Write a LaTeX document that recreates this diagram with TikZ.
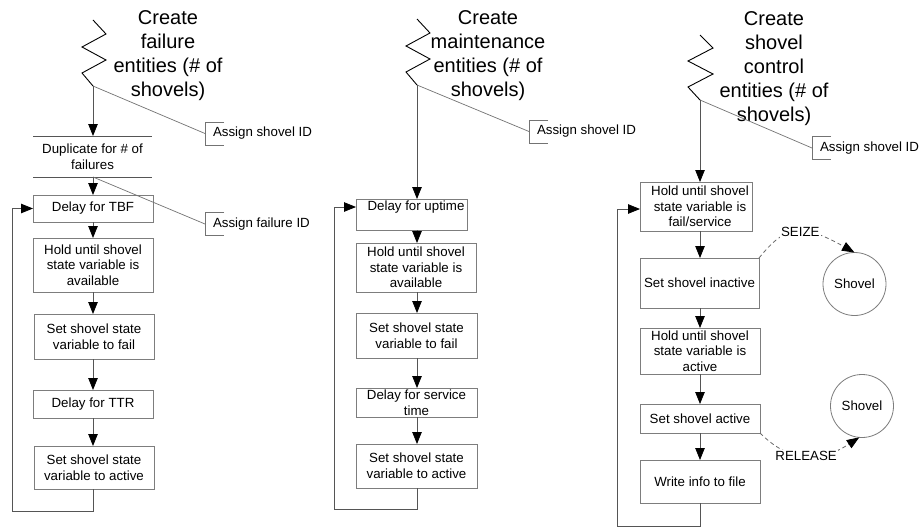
\documentclass[tikz,border=0pt]{standalone}
\usepackage{fontspec}
\setmainfont{Liberation Sans}
\usetikzlibrary{arrows.meta}
\definecolor{framegray}{RGB}{125,125,125}
\definecolor{shaftgray}{RGB}{85,85,85}
\definecolor{leadgray}{RGB}{115,115,115}
\definecolor{dashgray}{RGB}{105,105,105}
\newcommand{\blkfont}{\fontsize{13.3}{15.6}\selectfont}
\newcommand{\hdfont}{\fontsize{20}{24}\selectfont}
% "[" shaped bracket in front of an attribute tag
\newcommand{\idbracket}[1]{%
  \draw[lead] ([shift={(11,-11.5)}]#1.west) -- ([shift={(-8,-11.5)}]#1.west)
    -- ([shift={(-8,11.5)}]#1.west) -- ([shift={(11,11.5)}]#1.west);}
\begin{document}
\begin{tikzpicture}[x=1pt,y=-1pt,
  every node/.style={inner sep=0pt, outer sep=0pt, text=black},
  blk/.style={draw=framegray, line width=0.8pt, fill=white, align=center, font=\blkfont},
  ttl/.style={align=center, font=\hdfont, anchor=north},
  tag/.style={font=\blkfont, anchor=west},
  flow/.style={draw=shaftgray, line width=0.8pt, -{Triangle[length=12pt,width=9.5pt,color=black]}},
  rule/.style={draw=shaftgray, line width=0.8pt},
  zig/.style={draw=black, line width=0.9pt, line join=miter},
  lead/.style={draw=leadgray, line width=0.7pt},
  res/.style={circle, draw=framegray, line width=0.8pt, fill=white, minimum size=63pt, font=\blkfont},
  dsh/.style={draw=dashgray, line width=0.8pt, dash pattern=on 4pt off 3pt, -{Triangle[length=12.5pt,width=9.5pt,color=black]}},
  dlab/.style={fill=white, font=\blkfont, inner sep=1.5pt}
]
\fill[white] (0,0) rectangle (919,527);
\useasboundingbox (0,0) rectangle (919,527);

% ---------- headings ----------
\node[ttl] (h1) at (168,11) {Create\\failure\\entities (\# of\\shovels)};
\node[ttl] (h2) at (488,11) {Create\\maintenance\\entities (\# of\\shovels)};
\node[ttl] (h3) at (774,12) {Create\\shovel\\control\\entities (\# of\\shovels)};

% ---------- create symbols ----------
\draw[zig] (93,20) -- ++(13,14) -- ++(-24,13) -- ++(24,13) -- ++(-24,13) -- ++(11,13) coordinate (z1);
\draw[zig] (417,19) -- ++(13,14) -- ++(-24,13) -- ++(24,13) -- ++(-24,13) -- ++(11,13) coordinate (z2);
\draw[zig] (700,35) -- ++(13,13) -- ++(-25,13) -- ++(25,13) -- ++(-25,13) -- ++(12,13) coordinate (z3);

% ---------- attribute tags ----------
\node[tag] (t1) at (213,133.5) {Assign shovel ID};
\node[tag] (t2) at (213,224) {Assign failure ID};
\node[tag] (t3) at (537,131.5) {Assign shovel ID};
\node[tag] (t4) at (820,148) {Assign shovel ID};
\idbracket{t1}\idbracket{t2}\idbracket{t3}\idbracket{t4}

% ---------- failure entities ----------
\node[blk, draw=none, fill=none, minimum width=119pt, minimum height=41pt] (dup) at (92.5,156.5) {Duplicate for \# of\\failures};
\draw[rule] (dup.north west) -- (dup.north east);
\draw[rule] (dup.south west) -- (dup.south east);
\node[blk, minimum width=120pt, minimum height=27pt] (c1a) at (93,208.5) {Delay for TBF};
\node[blk, minimum width=120pt, minimum height=54pt] (c1b) at (93,265) {Hold until shovel\\state variable is\\available};
\node[blk, minimum width=120pt, minimum height=45pt] (c1c) at (94,336.5) {Set shovel state\\variable to fail};
\node[blk, minimum width=120pt, minimum height=28pt] (c1d) at (93,404) {Delay for TTR};
\node[blk, minimum width=120pt, minimum height=43pt] (c1e) at (94,467.5) {Set shovel state\\variable to active};

\draw[lead] (z1) -- ([xshift=-8pt]t1.west);
\draw[lead] (dup.south -| z1) -- ([xshift=-8pt]t2.west);
\draw[flow] (z1) -- (dup.north -| z1);
\draw[flow] (dup.south -| z1) -- (c1a.north -| z1);
\draw[flow] (c1a.south -| z1) -- (c1b.north -| z1);
\draw[flow] (c1b.south -| z1) -- (c1c.north -| z1);
\draw[flow] (c1c.south -| z1) -- (c1d.north -| z1);
\draw[flow] (c1d.south -| z1) -- (c1e.north -| z1);
\draw[flow] (c1e.south -| z1) -- ++(0,22) -| ([xshift=-21pt]c1a.west) -- (c1a.west);

% ---------- maintenance entities ----------
\node[blk, minimum width=111pt, minimum height=31pt,
  label={[font=\blkfont, xshift=4.5pt, yshift=7pt]center:Delay for uptime}] (c2a) at (411.5,214.5) {};
\node[blk, minimum width=120pt, minimum height=49pt] (c2b) at (416,267.5) {Hold until shovel\\state variable is\\available};
\node[blk, minimum width=121pt, minimum height=45pt] (c2c) at (416.5,335.5) {Set shovel state\\variable to fail};
\node[blk, minimum width=121pt, minimum height=29pt] (c2d) at (416.5,402.5) {Delay for service\\time};
\node[blk, minimum width=121pt, minimum height=44pt] (c2e) at (416.5,466) {Set shovel state\\variable to active};

\draw[lead] (z2) -- ([xshift=-8pt]t3.west);
\draw[flow] (z2) -- (c2a.north -| z2);
\draw[flow] (c2a.south -| z2) -- (c2b.north -| z2);
\draw[flow] (c2b.south -| z2) -- (c2c.north -| z2);
\draw[flow] (c2c.south -| z2) -- (c2d.north -| z2);
\draw[flow] (c2d.south -| z2) -- (c2e.north -| z2);
\draw[flow] (c2e.south -| z2) -- ++(0,21) -| ([xshift=-22pt,yshift=7.5pt]c2a.west) -- ([yshift=7.5pt]c2a.west);

% ---------- shovel control entities ----------
\node[blk, minimum width=112pt, minimum height=49pt,
  label={[font=\blkfont, align=center, xshift=4pt]center:Hold until shovel\\state variable is\\fail/service}] (c3a) at (696,206.5) {};
\node[blk, minimum width=119pt, minimum height=50pt] (c3b) at (699.5,283) {Set shovel inactive};
\node[blk, minimum width=120pt, minimum height=46pt] (c3c) at (700,351) {Hold until shovel\\state variable is\\active};
\node[blk, minimum width=120pt, minimum height=29pt] (c3d) at (700,418.5) {Set shovel active};
\node[blk, minimum width=120pt, minimum height=43pt] (c3e) at (700,481.5) {Write info to file};

\draw[lead] (z3) -- ([xshift=-8pt]t4.west);
\draw[flow] (z3) -- (c3a.north -| z3);
\draw[flow] (c3a.south -| z3) -- (c3b.north -| z3);
\draw[flow] (c3b.south -| z3) -- (c3c.north -| z3);
\draw[flow] (c3c.south -| z3) -- (c3d.north -| z3);
\draw[flow] (c3d.south -| z3) -- (c3e.north -| z3);
\draw[flow] (c3e.south -| z3) -- ++(0,23) -| ([xshift=-23pt,yshift=-2.5pt]c3a.west) -- ([yshift=-2.5pt]c3a.west);

% ---------- shovel resource ----------
\node[res] (shv1) at (854.5,284) {Shovel};
\node[res] (shv2) at (862,406) {Shovel};
\draw[dsh] (c3b.north east) .. controls (785,226) and (800,222) .. node[dlab, pos=0.55] {SEIZE} (shv1.north);
\draw[dsh] (c3d.south east) .. controls (790,463) and (820,463) .. node[dlab, pos=0.5] {RELEASE} (shv2.265);
\end{tikzpicture}
\end{document}
